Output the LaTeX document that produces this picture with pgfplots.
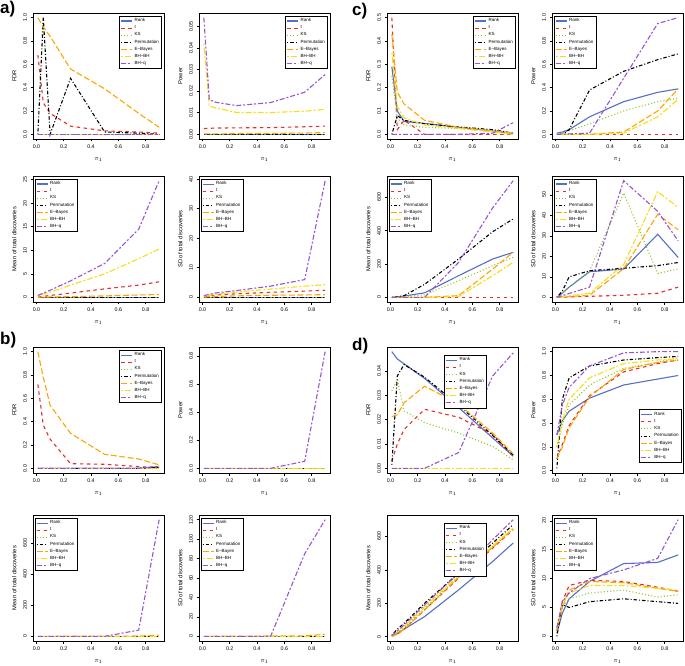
\documentclass[border=0pt]{standalone}
\usepackage{fontspec}
\setmainfont{Liberation Sans}
\usepackage{pgfplots}
\pgfplotsset{compat=1.18}

\definecolor{rankc}{RGB}{85,110,200}
\definecolor{tc}{RGB}{230,45,40}
\definecolor{ksc}{RGB}{140,200,40}
\definecolor{ebc}{RGB}{255,165,0}
\definecolor{bhc}{RGB}{245,222,20}
\definecolor{bhqc}{RGB}{150,85,210}

\pgfplotsset{
  rk/.style={rankc, line width=1.1pt, solid},
  tt/.style={tc, line width=1.1pt, dash pattern=on 3.5pt off 3.5pt},
  ks/.style={ksc, line width=1.1pt, dash pattern=on 1pt off 2.2pt},
  pm/.style={black, line width=1.1pt, dash pattern=on 1pt off 2pt on 3.5pt off 2pt},
  eb/.style={ebc, line width=1.1pt, dash pattern=on 6pt off 2.5pt},
  bb/.style={bhc, line width=1.1pt, dash pattern=on 2pt off 2pt on 6pt off 2pt},
  bq/.style={bhqc, line width=1.1pt, dash pattern=on 5pt off 2pt on 2pt off 2pt},
  panel/.style={
    scale only axis, width=131pt, height=126pt, anchor=north west,
    enlargelimits=0.04,
    scaled y ticks=false, scaled x ticks=false,
    /pgf/number format/assume math mode=true,
    /pgf/number format/1000 sep={},
    axis line style={line width=0.7pt},
    tick align=outside, xtick pos=bottom, ytick pos=left,
    major tick length=2.5pt,
    tick style={line width=0.6pt, black},
    xtick={0,0.2,0.4,0.6,0.8}, xticklabels={0.0,0.2,0.4,0.6,0.8},
    tick label style={font=\fontsize{5.3}{6}\selectfont},
    yticklabel style={rotate=90, anchor=south},
    label style={font=\fontsize{5.8}{7}\selectfont},
    xlabel={$\pi_1$},
    xlabel style={yshift=-2pt},
    legend style={font=\fontsize{4.5}{5}\selectfont, draw=black, line width=0.7pt,
      inner sep=0.8pt, row sep=-1.5pt, cells={anchor=west}},
    legend image code/.code={\draw[#1] (0pt,0pt) -- (11pt,0pt);},
    legend cell align=left,
  },
  tr/.style={legend style={at={(0.985,0.98)}, anchor=north east}},
  tl/.style={legend style={at={(0.015,0.98)}, anchor=north west}},
}

\newcommand{\seven}[7]{%
  \addplot[rk] coordinates {#1};
  \addplot[tt] coordinates {#2};
  \addplot[ks] coordinates {#3};
  \addplot[pm] coordinates {#4};
  \addplot[eb] coordinates {#5};
  \addplot[bb] coordinates {#6};
  \addplot[bq] coordinates {#7};
}
\newcommand{\leg}{\legend{Rank,t,KS,Permutation,E--Bayes,BH--BH,BH--q}}

\begin{document}
\begin{tikzpicture}

% ---------------- a) ----------------
\begin{axis}[panel, tr, at={(33pt,652pt)}, ylabel={FDR},
  ytick={0,0.2,0.4,0.6,0.8,1}, yticklabels={0.0,0.2,0.4,0.6,0.8,1.0}]
\seven{(0.01,0)(0.9,0)}
{(0.01,0.68)(0.05,0.27)(0.1,0.18)(0.25,0.07)(0.5,0.03)(0.75,0.02)(0.9,0.01)}
{(0.01,0)(0.9,0)}
{(0.01,0)(0.05,1.0)(0.1,0)(0.25,0.48)(0.5,0.02)(0.75,0.01)(0.9,0)}
{(0.01,1.0)(0.05,0.92)(0.1,0.84)(0.25,0.56)(0.5,0.39)(0.75,0.18)(0.9,0.06)}
{(0.01,0)(0.9,0)}
{(0.01,0)(0.9,0)}
\leg
\end{axis}

\begin{axis}[panel, tr, at={(199pt,652pt)}, ylabel={Power},
  ytick={0,0.01,0.02,0.03,0.04,0.05}, yticklabels={0.00,0.01,0.02,0.03,0.04,0.05}]
\seven{(0.01,0)(0.9,0)}
{(0.01,0.0027)(0.05,0.0028)(0.1,0.0029)(0.25,0.003)(0.5,0.0031)(0.75,0.0035)(0.9,0.0038)}
{(0.01,0)(0.9,0)}
{(0.01,0)(0.9,0)}
{(0.01,0.0002)(0.05,0.0002)(0.1,0.0002)(0.25,0.0003)(0.5,0.0004)(0.75,0.0006)(0.9,0.0008)}
{(0.01,0.042)(0.05,0.013)(0.1,0.0122)(0.25,0.0101)(0.5,0.0101)(0.75,0.0107)(0.9,0.0116)}
{(0.01,0.054)(0.05,0.016)(0.1,0.0148)(0.25,0.0133)(0.5,0.0147)(0.75,0.0195)(0.9,0.0277)}
\leg
\end{axis}

\begin{axis}[panel, tl, at={(33pt,489pt)}, ylabel={Mean of total discoveries},
  ytick={0,5,10,15,20,25}, yticklabels={0,5,10,15,20,25}]
\seven{(0.01,0)(0.9,0)}
{(0.01,0.05)(0.05,0.2)(0.1,0.4)(0.25,0.9)(0.5,1.8)(0.75,2.6)(0.9,3.3)}
{(0.01,0)(0.9,0)}
{(0.01,0)(0.9,0)}
{(0.01,0.02)(0.05,0.05)(0.1,0.08)(0.25,0.15)(0.5,0.3)(0.75,0.5)(0.9,0.6)}
{(0.01,0.3)(0.05,0.7)(0.1,1.1)(0.25,2.6)(0.5,5)(0.75,8.2)(0.9,10.3)}
{(0.01,0.4)(0.05,0.9)(0.1,1.5)(0.25,3.5)(0.5,7.2)(0.75,14.5)(0.9,24.8)}
\leg
\end{axis}

\begin{axis}[panel, tl, at={(199pt,489pt)}, ylabel={SD of total discoveries},
  ytick={0,10,20,30,40}, yticklabels={0,10,20,30,40}]
\seven{(0.01,0)(0.9,0)}
{(0.01,0.2)(0.05,0.5)(0.1,0.8)(0.25,1.2)(0.5,1.7)(0.75,2.1)(0.9,2.4)}
{(0.01,0)(0.9,0)}
{(0.01,0)(0.9,0)}
{(0.01,0.1)(0.05,0.2)(0.1,0.3)(0.25,0.5)(0.5,0.7)(0.75,0.8)(0.9,0.9)}
{(0.01,0.4)(0.05,0.7)(0.1,1.0)(0.25,1.8)(0.5,2.8)(0.75,3.8)(0.9,4.3)}
{(0.01,0.6)(0.05,1.0)(0.1,1.5)(0.25,2.3)(0.5,3.8)(0.75,6.0)(0.9,39.5)}
\leg
\end{axis}

% ---------------- b) ----------------
\begin{axis}[panel, tr, at={(33pt,318pt)}, ylabel={FDR},
  ytick={0,0.2,0.4,0.6,0.8,1}, yticklabels={0.0,0.2,0.4,0.6,0.8,1.0}]
\seven{(0.01,0)(0.75,0)(0.9,0.01)}
{(0.01,0.72)(0.05,0.37)(0.1,0.25)(0.25,0.04)(0.5,0.035)(0.75,0.015)(0.9,0.005)}
{(0.01,0)(0.9,0)}
{(0.01,0)(0.75,0)(0.9,0.01)}
{(0.01,1.0)(0.05,0.78)(0.1,0.54)(0.25,0.30)(0.5,0.12)(0.75,0.08)(0.9,0.03)}
{(0.01,0)(0.9,0)}
{(0.01,0)(0.75,0)(0.9,0.02)}
\leg
\end{axis}

\begin{axis}[panel, tl, at={(199pt,318pt)}, ylabel={Power},
  ytick={0,0.2,0.4,0.6,0.8}, yticklabels={0.0,0.2,0.4,0.6,0.8}]
\seven{(0.01,0)(0.9,0)}
{(0.01,0)(0.9,0)}
{(0.01,0)(0.9,0)}
{(0.01,0)(0.9,0)}
{(0.01,0)(0.9,0)}
{(0.01,0)(0.9,0)}
{(0.01,0)(0.25,0)(0.5,0)(0.75,0.05)(0.9,0.83)}
\end{axis}

\begin{axis}[panel, tl, at={(33pt,150pt)}, ylabel={Mean of total discoveries},
  ytick={0,200,400,600}, yticklabels={0,200,400,600}]
\seven{(0.01,0)(0.9,0)}
{(0.01,0)(0.9,0)}
{(0.01,0)(0.9,0)}
{(0.01,0)(0.9,0)}
{(0.01,0)(0.75,2)(0.9,8)}
{(0.01,0)(0.9,0)}
{(0.01,0)(0.25,0)(0.5,0)(0.75,40)(0.9,750)}
\leg
\end{axis}

\begin{axis}[panel, tl, at={(199pt,150pt)}, ylabel={SD of total discoveries},
  ytick={0,20,40,60,80,100,120}, yticklabels={0,20,40,60,80,100,120}]
\seven{(0.01,0)(0.9,0)}
{(0.01,0)(0.9,0)}
{(0.01,0)(0.9,0)}
{(0.01,0)(0.9,0)}
{(0.01,0)(0.75,0.5)(0.9,2)}
{(0.01,0)(0.9,0)}
{(0.01,0)(0.25,0)(0.5,0)(0.75,85)(0.9,120)}
\leg
\end{axis}

% ---------------- c) ----------------
\begin{axis}[panel, tr, at={(387pt,652pt)}, ylabel={FDR},
  ytick={0,0.1,0.2,0.3,0.4,0.5}, yticklabels={0.0,0.1,0.2,0.3,0.4,0.5}]
\seven{(0.01,0.29)(0.05,0.10)(0.1,0.055)(0.25,0.047)(0.5,0.03)(0.75,0.015)(0.9,0.003)}
{(0.01,0.5)(0.05,0.02)(0.1,0.06)(0.25,0.0)(0.5,0)(0.75,0)(0.9,0)}
{(0.01,0.25)(0.05,0.07)(0.1,0.04)(0.25,0.03)(0.5,0.025)(0.75,0.015)(0.9,0.005)}
{(0.01,0)(0.05,0.08)(0.1,0.06)(0.25,0.045)(0.5,0.032)(0.75,0.02)(0.9,0.005)}
{(0.01,0.43)(0.05,0.18)(0.1,0.13)(0.25,0.06)(0.5,0.03)(0.75,0.015)(0.9,0.005)}
{(0.01,0.35)(0.05,0.12)(0.1,0.07)(0.25,0.04)(0.5,0.025)(0.75,0.01)(0.9,0)}
{(0.01,0)(0.5,0)(0.75,0.005)(0.9,0.05)}
\leg
\end{axis}

\begin{axis}[panel, tl, at={(552pt,652pt)}, ylabel={Power},
  ytick={0,0.2,0.4,0.6,0.8,1}, yticklabels={0.0,0.2,0.4,0.6,0.8,1.0}]
\seven{(0.01,0.01)(0.05,0.02)(0.1,0.04)(0.25,0.15)(0.5,0.28)(0.75,0.36)(0.9,0.39)}
{(0.01,0)(0.9,0)}
{(0.01,0)(0.05,0.01)(0.1,0.03)(0.25,0.09)(0.5,0.2)(0.75,0.28)(0.9,0.31)}
{(0.01,0)(0.05,0.0)(0.1,0.04)(0.25,0.38)(0.5,0.54)(0.75,0.64)(0.9,0.69)}
{(0.01,0)(0.25,0)(0.5,0.02)(0.75,0.2)(0.9,0.39)}
{(0.01,0)(0.25,0)(0.5,0.01)(0.75,0.15)(0.9,0.3)}
{(0.01,0)(0.25,0.01)(0.5,0.48)(0.75,0.95)(0.9,1.0)}
\leg
\end{axis}

\begin{axis}[panel, tl, at={(387pt,489pt)}, ylabel={Mean of total discoveries},
  ytick={0,200,400,600}, yticklabels={0,200,400,600}]
\seven{(0.01,0)(0.05,2)(0.1,8)(0.25,27)(0.5,130)(0.75,230)(0.9,270)}
{(0.01,0)(0.9,0)}
{(0.01,0)(0.05,1)(0.1,4)(0.25,15)(0.5,100)(0.75,190)(0.9,240)}
{(0.01,0)(0.05,3)(0.1,10)(0.25,78)(0.5,230)(0.75,394)(0.9,470)}
{(0.01,0)(0.25,0)(0.5,10)(0.75,170)(0.9,270)}
{(0.01,0)(0.25,0)(0.5,5)(0.75,130)(0.9,210)}
{(0.01,0)(0.25,0)(0.5,210)(0.75,537)(0.9,700)}
\leg
\end{axis}

\begin{axis}[panel, tl, at={(552pt,489pt)}, ylabel={SD of total discoveries},
  ytick={0,10,20,30,40,50}, yticklabels={0,10,20,30,40,50}]
\seven{(0.01,0)(0.05,2)(0.1,5)(0.25,12.5)(0.5,13.8)(0.75,30.8)(0.9,19.5)}
{(0.01,0)(0.25,0.5)(0.5,1)(0.75,2)(0.9,5)}
{(0.01,0)(0.05,2)(0.1,5)(0.25,13)(0.5,51)(0.75,11.7)(0.9,13.8)}
{(0.01,0)(0.05,3)(0.1,10)(0.25,13)(0.5,14.2)(0.75,15.5)(0.9,17)}
{(0.01,0)(0.25,1)(0.5,14)(0.75,40.6)(0.9,33)}
{(0.01,0)(0.25,2)(0.5,16)(0.75,51.6)(0.9,44)}
{(0.01,0)(0.25,5)(0.5,57)(0.75,42)(0.9,27.6)}
\leg
\end{axis}

% ---------------- d) ----------------
\begin{axis}[panel, at={(387pt,318pt)}, ylabel={FDR},
  legend style={at={(0.763,0.94)}, anchor=north east},
  ytick={0,0.01,0.02,0.03,0.04}, yticklabels={0.00,0.01,0.02,0.03,0.04}]
\seven{(0.01,0.048)(0.05,0.045)(0.1,0.043)(0.25,0.037)(0.5,0.025)(0.75,0.0125)(0.9,0.005)}
{(0.01,0.003)(0.05,0.01)(0.1,0.016)(0.25,0.0243)(0.5,0.021)(0.75,0.014)(0.9,0.005)}
{(0.01,0.0318)(0.05,0.0365)(0.1,0.0236)(0.25,0.0188)(0.5,0.0145)(0.75,0.009)(0.9,0.0035)}
{(0.01,0.0014)(0.05,0.038)(0.1,0.0427)(0.25,0.0375)(0.5,0.026)(0.75,0.0135)(0.9,0.0055)}
{(0.01,0.0213)(0.05,0.022)(0.1,0.027)(0.25,0.0338)(0.5,0.0265)(0.75,0.0145)(0.9,0.006)}
{(0.01,0)(0.9,0)}
{(0.01,0)(0.25,0)(0.5,0.0065)(0.75,0.038)(0.9,0.0475)}
\leg
\end{axis}

\begin{axis}[panel, at={(552pt,318pt)}, ylabel={Power},
  legend style={at={(0.99,0.08)}, anchor=south east},
  ytick={0,0.2,0.4,0.6,0.8,1}, yticklabels={0.0,0.2,0.4,0.6,0.8,1.0}]
\seven{(0.01,0.3)(0.05,0.42)(0.1,0.5)(0.25,0.61)(0.5,0.72)(0.75,0.77)(0.9,0.8)}
{(0.01,0.1)(0.05,0.22)(0.1,0.38)(0.25,0.63)(0.5,0.83)(0.75,0.9)(0.9,0.93)}
{(0.01,0.2)(0.05,0.38)(0.1,0.55)(0.25,0.72)(0.5,0.86)(0.75,0.91)(0.9,0.95)}
{(0.01,0.02)(0.05,0.6)(0.1,0.78)(0.25,0.88)(0.5,0.93)(0.75,0.95)(0.9,0.96)}
{(0.01,0.1)(0.05,0.2)(0.1,0.36)(0.25,0.62)(0.5,0.85)(0.75,0.91)(0.9,0.93)}
{(0.01,0.2)(0.05,0.42)(0.1,0.6)(0.25,0.78)(0.5,0.9)(0.75,0.93)(0.9,0.94)}
{(0.01,0.3)(0.05,0.55)(0.1,0.7)(0.25,0.88)(0.5,0.99)(0.75,1.0)(0.9,1.0)}
\leg
\end{axis}

\begin{axis}[panel, at={(387pt,150pt)}, ylabel={Mean of total discoveries},
  legend style={at={(0.763,0.94)}, anchor=north east},
  ytick={0,200,400,600}, yticklabels={0,200,400,600}]
\seven{(0.01,5)(0.05,20)(0.1,45)(0.25,120)(0.5,280)(0.75,450)(0.9,560)}
{(0.01,2)(0.05,15)(0.1,45)(0.25,160)(0.5,350)(0.75,530)(0.9,640)}
{(0.01,4)(0.05,25)(0.1,55)(0.25,170)(0.5,360)(0.75,540)(0.9,645)}
{(0.01,8)(0.05,45)(0.1,80)(0.25,200)(0.5,380)(0.75,560)(0.9,670)}
{(0.01,2)(0.05,15)(0.1,45)(0.25,160)(0.5,355)(0.75,535)(0.9,645)}
{(0.01,4)(0.05,28)(0.1,60)(0.25,180)(0.5,365)(0.75,545)(0.9,650)}
{(0.01,7)(0.05,35)(0.1,70)(0.25,190)(0.5,380)(0.75,580)(0.9,700)}
\leg
\end{axis}

\begin{axis}[panel, tl, at={(552pt,150pt)}, ylabel={SD of total discoveries},
  ytick={0,5,10,15,20}, yticklabels={0,5,10,15,20}]
\seven{(0.01,0.5)(0.05,4)(0.1,6.5)(0.25,9.5)(0.5,12.6)(0.75,12.8)(0.9,14.1)}
{(0.01,1)(0.05,6)(0.1,8.8)(0.25,9.7)(0.5,9.5)(0.75,8.5)(0.9,7.8)}
{(0.01,1)(0.05,5)(0.1,6.5)(0.25,7.5)(0.5,8)(0.75,6.8)(0.9,7.2)}
{(0.01,0)(0.05,5.5)(0.1,5)(0.25,6)(0.5,6.5)(0.75,6)(0.9,5.7)}
{(0.01,1)(0.05,5)(0.1,8)(0.25,9.5)(0.5,9.3)(0.75,8.3)(0.9,7.8)}
{(0.01,1.5)(0.05,5.5)(0.1,7.5)(0.25,8.8)(0.5,8.8)(0.75,8.3)(0.9,8)}
{(0.01,1.5)(0.05,6)(0.1,7.5)(0.25,10)(0.5,11.5)(0.75,13.5)(0.9,20.2)}
\leg
\end{axis}

\node[anchor=north west, font=\bfseries\fontsize{17}{17}\selectfont, inner sep=0pt] at (0pt,664pt) {a)};
\node[anchor=north west, font=\bfseries\fontsize{17}{17}\selectfont, inner sep=0pt] at (0pt,333pt) {b)};
\node[anchor=north west, font=\bfseries\fontsize{17}{17}\selectfont, inner sep=0pt] at (352pt,662pt) {c)};
\node[anchor=north west, font=\bfseries\fontsize{17}{17}\selectfont, inner sep=0pt] at (352pt,327pt) {d)};

\pgfresetboundingbox
\path (0pt,0pt) rectangle (685pt,665pt);
\end{tikzpicture}
\end{document}
